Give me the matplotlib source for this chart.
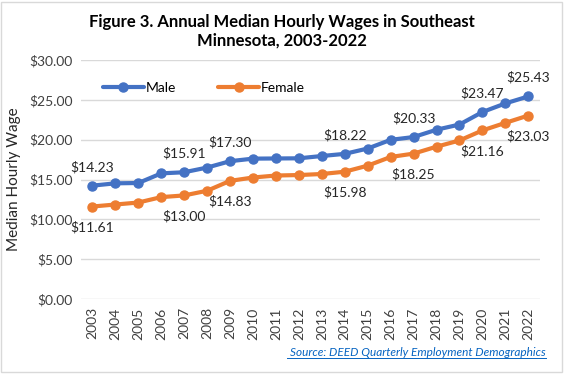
import matplotlib
matplotlib.use("Agg")
import matplotlib.pyplot as plt
from matplotlib.patches import Rectangle

years = [str(y) for y in range(2003, 2023)]
male = [14.23, 14.52, 14.56, 15.77, 15.91, 16.50, 17.30, 17.62, 17.64, 17.66,
        17.95, 18.22, 18.89, 19.98, 20.33, 21.25, 21.90, 23.47, 24.55, 25.43]
female = [11.61, 11.86, 12.11, 12.79, 13.00, 13.59, 14.83, 15.25, 15.50, 15.56,
          15.69, 15.98, 16.74, 17.83, 18.25, 19.12, 19.90, 21.16, 22.11, 23.03]
male_label_years = ["2003", "2007", "2009", "2014", "2017", "2020", "2022"]
female_label_years = ["2003", "2007", "2009", "2014", "2017", "2020", "2022"]
yticks = [0, 5, 10, 15, 20, 25, 30]

plt.rcParams['font.family'] = ['Lato', 'DejaVu Sans']

fig = plt.figure(figsize=(5.64, 3.76), dpi=100)
ax = fig.add_axes([0.1436, 0.2048, 0.8134, 0.6356])

x = list(range(len(years)))
blue = '#4472C4'
orange = '#ED7D31'
ax.plot(x, male, color=blue, lw=3, marker='o', ms=6.5, label='Male', solid_capstyle='round')
ax.plot(x, female, color=orange, lw=3, marker='o', ms=6.5, label='Female', solid_capstyle='round')

for i, yr in enumerate(years):
    if yr in male_label_years:
        ax.annotate(f"${male[i]:.2f}", (i, male[i]), xytext=(0, 9), textcoords='offset points',
                    ha='center', va='bottom', fontsize=10, color='#262626')
    if yr in female_label_years:
        ax.annotate(f"${female[i]:.2f}", (i, female[i]), xytext=(0, -10.5), textcoords='offset points',
                    ha='center', va='top', fontsize=10, color='#262626')

ax.set_xlim(-0.5, len(years) - 0.5)
ax.set_ylim(0, 30)
ax.set_yticks(yticks)
ax.set_yticklabels([f"${v:.2f}" for v in yticks], fontsize=10, color='#404040')
ax.set_xticks(x)
ax.set_xticklabels(years, rotation=90, fontsize=10, color='#404040')
ax.tick_params(length=0, pad=6)
ax.grid(axis='y', color='#D9D9D9', lw=1)
ax.set_axisbelow(True)
for s in ax.spines.values():
    s.set_visible(False)
ax.set_ylabel("Median Hourly Wage", fontsize=11, color='#262626', labelpad=6)

ax.legend(loc='upper left', bbox_to_anchor=(0.02, 0.96), ncol=2, frameon=False,
          fontsize=10, handlelength=3.0, columnspacing=3.0, handletextpad=0.1)

fig.text(0.5, 0.962, "Figure 3. Annual Median Hourly Wages in Southeast\nMinnesota, 2003-2022",
         ha='center', va='top', fontsize=12, fontweight='bold', linespacing=1.2)
fig.text(0.968, 0.063, "Source: DEED Quarterly Employment Demographics", ha='right', va='center',
         fontsize=8.5, style='italic', color='#0563C1')
# underline
fig.add_artist(plt.Line2D([0.508, 0.968], [0.048, 0.048], color='#0563C1', lw=0.7))

fig.add_artist(Rectangle((0.002, 0.01), 0.994, 0.986, transform=fig.transFigure,
                         fill=False, edgecolor='#D9D9D9', lw=1))

fig.savefig("out.png", dpi=100)
